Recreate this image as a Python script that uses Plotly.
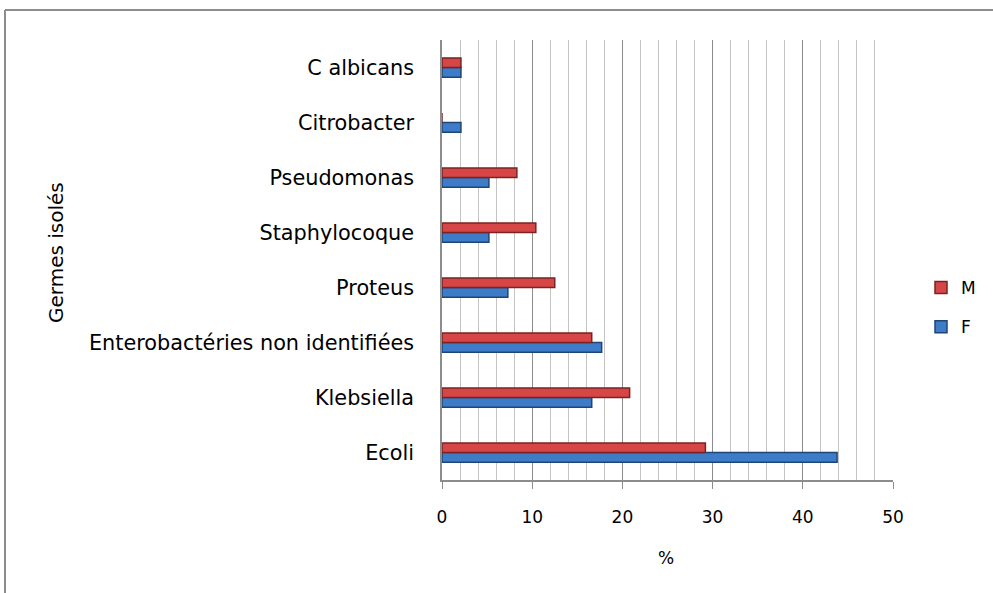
import plotly.graph_objects as go

categories = ["Ecoli", "Klebsiella", "Enterobactéries non identifiées", "Proteus",
              "Staphylocoque", "Pseudomonas", "Citrobacter", "C albicans"]
values_F = [43.8, 16.6, 17.7, 7.3, 5.2, 5.2, 2.1, 2.1]
values_M = [29.2, 20.8, 16.6, 12.5, 10.4, 8.3, 0, 2.1]
x_ticks = [0, 10, 20, 30, 40, 50]

FONT = "DejaVu Sans"

fig = go.Figure()
fig.add_trace(go.Bar(
    y=categories, x=values_F, orientation="h", name="F", legendgroup="F", legendrank=2,
    marker=dict(color="#3F7CC8", line=dict(color="#1E4577", width=1.5)),
))
fig.add_trace(go.Bar(
    y=categories, x=values_M, orientation="h", name="M", legendgroup="M", legendrank=1,
    marker=dict(color="#D64646", line=dict(color="#7A2322", width=1.5)),
))

L, R, T, B = 442, 100, 40, 113
W, H = 993, 593
pw, ph = W - L - R, H - T - B

def px_x(p):
    return (p - L) / pw

def px_y(p):
    return (H - B - p) / ph

fig.update_layout(
    width=W, height=H,
    margin=dict(l=L, r=R, t=T, b=B, pad=0),
    paper_bgcolor="white", plot_bgcolor="white",
    barmode="group", bargap=0.65, bargroupgap=0,
    font=dict(family=FONT, size=18, color="#000000"),
    showlegend=True,
    legend=dict(x=px_x(921), y=px_y(270), xanchor="left", yanchor="top",
                traceorder="grouped", tracegroupgap=14,
                font=dict(size=17, family=FONT), bgcolor="rgba(0,0,0,0)"),
    xaxis=dict(range=[0, 50], tickvals=x_ticks, ticktext=[str(v) for v in x_ticks],
               showgrid=True, gridcolor="#8C8C8C", gridwidth=1,
               minor=dict(dtick=2, showgrid=True, gridcolor="#C4C4C4", gridwidth=1),
               showline=True, linecolor="#8C8C8C", linewidth=1.5,
               ticks="outside", ticklen=7, tickcolor="#8C8C8C", ticklabelstandoff=14,
               tickfont=dict(size=17, family=FONT), zeroline=False, fixedrange=True),
    yaxis=dict(categoryorder="array", categoryarray=categories,
               showline=True, linecolor="#8C8C8C", linewidth=1.5,
               ticks="outside", ticklen=0, ticklabelstandoff=22,
               tickfont=dict(size=20.8, family=FONT), showgrid=False, fixedrange=True),
    annotations=[
        dict(text="Germes isolés", textangle=-90, x=px_x(56), y=px_y(253),
             xref="paper", yref="paper", showarrow=False,
             font=dict(size=20, family=FONT), xanchor="center", yanchor="middle"),
        dict(text="%", x=px_x(666), y=px_y(558), xref="paper", yref="paper",
             showarrow=False, font=dict(size=17, family=FONT),
             xanchor="center", yanchor="middle"),
    ],
    shapes=[
        dict(type="line", xref="paper", yref="paper", x0=px_x(5), x1=px_x(W + 5),
             y0=px_y(10), y1=px_y(10), line=dict(color="#8C8C8C", width=2)),
        dict(type="line", xref="paper", yref="paper", x0=px_x(5), x1=px_x(5),
             y0=px_y(10), y1=px_y(H + 5), line=dict(color="#8C8C8C", width=2)),
    ],
)

fig.write_html("out.html", config={"displayModeBar": False},
               post_script="document.body.style.margin='0';document.body.style.overflow='hidden';")
